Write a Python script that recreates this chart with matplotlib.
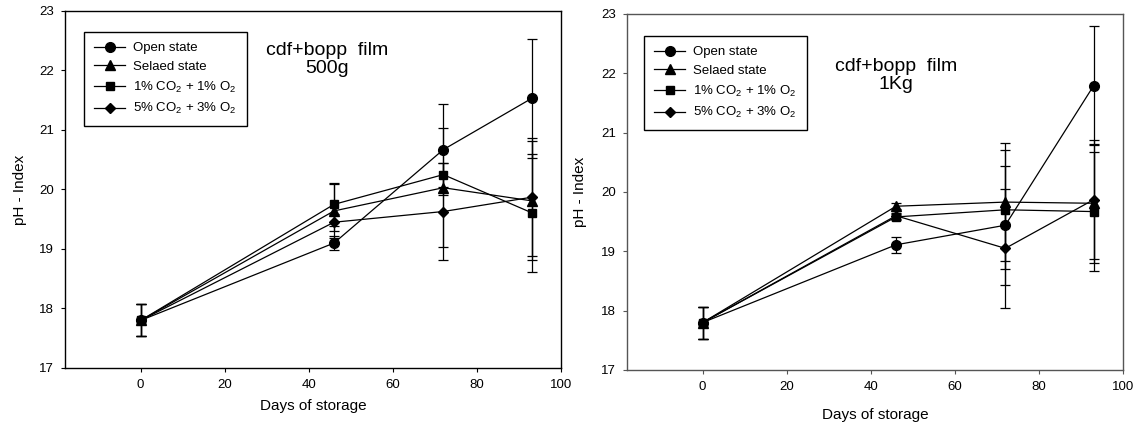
import matplotlib
matplotlib.use("Agg")
import matplotlib.pyplot as plt

plt.rcParams["font.family"] = ["Liberation Sans", "DejaVu Sans"]
plt.rcParams["mathtext.fontset"] = "custom"
plt.rcParams["mathtext.rm"] = "Liberation Sans"
plt.rcParams["mathtext.it"] = "Liberation Sans"

days = [0, 46, 72, 93]
labels = ["Open state", "Selaed state",
          "1% CO$_2$ + 1% O$_2$", "5% CO$_2$ + 3% O$_2$"]
markers = ["o", "^", "s", "D"]
msizes = [7, 7, 6, 5.5]

# cdf+bopp film, 500g
open_500 = [17.80, 19.10, 20.67, 21.53]
sealed_500 = [17.80, 19.64, 20.03, 19.81]
co2_1_500 = [17.80, 19.75, 20.25, 19.61]
co2_5_500 = [17.80, 19.45, 19.63, 19.87]
open_500_err = [0.27, 0.12, 0.76, 1.00]
sealed_500_err = [0.27, 0.46, 1.00, 1.00]
co2_1_500_err = [0.27, 0.36, 0.20, 0.99]
co2_5_500_err = [0.27, 0.14, 0.81, 0.99]

# cdf+bopp film, 1Kg
open_1k = [17.80, 19.11, 19.44, 21.79]
sealed_1k = [17.80, 19.76, 19.83, 19.81]
co2_1_1k = [17.80, 19.58, 19.70, 19.67]
co2_5_1k = [17.80, 19.60, 19.05, 19.87]
open_1k_err = [0.27, 0.13, 1.00, 1.00]
sealed_1k_err = [0.27, 0.05, 1.00, 1.00]
co2_1_1k_err = [0.27, 0.05, 1.00, 1.00]
co2_5_1k_err = [0.27, 0.05, 1.00, 1.00]

fig = plt.figure(figsize=(11.43, 4.37), dpi=100)
W, H = 1143, 437
ax1 = fig.add_axes([65 / W, 1 - 368 / H, 496 / W, 357 / H])
ax2 = fig.add_axes([627 / W, 1 - 370 / H, 496 / W, 356 / H])


def draw_panel(ax, series, errs, title, spine_col, leg_box, txt_pos,
               xpad, ypad):
    handles = []
    for vals, err, lab, m, ms in zip(series, errs, labels, markers, msizes):
        c = ax.errorbar(days, vals, yerr=err, color="black", marker=m, ms=ms,
                        lw=0.9, elinewidth=0.9, capsize=3.8, capthick=0.9,
                        label=lab)
        handles.append(c.lines[0])
    ax.set_xlim(-18, 100)
    ax.set_ylim(17, 23)
    ax.set_xticks([0, 20, 40, 60, 80, 100])
    ax.set_yticks([17, 18, 19, 20, 21, 22, 23])
    ax.tick_params(direction="out", length=3, width=0.8, labelsize=9.5,
                   labelcolor="black", color=spine_col, pad=5,
                   top=False, right=False)
    for s in ax.spines.values():
        s.set_color(spine_col)
        s.set_linewidth(1.0)
    ax.set_xlabel("Days of storage", fontsize=11, labelpad=xpad)
    ax.set_ylabel("pH - Index", fontsize=11, labelpad=ypad)
    leg = ax.legend(handles=handles, labels=labels, loc="upper left",
                    bbox_to_anchor=leg_box, fontsize=9.5,
                    handlelength=2.4, handletextpad=0.6, borderpad=0.75,
                    labelspacing=0.5, fancybox=False, framealpha=1,
                    edgecolor="black", borderaxespad=0)
    leg.get_frame().set_linewidth(1.0)
    ax.text(txt_pos[0], txt_pos[1], title, transform=ax.transAxes,
            ha="center", va="center", fontsize=14, linespacing=1.1)


draw_panel(ax1, [open_500, sealed_500, co2_1_500, co2_5_500],
           [open_500_err, sealed_500_err, co2_1_500_err, co2_5_500_err],
           "cdf+bopp  film\n500g", "black", (0.038, 0.941), (0.528, 0.864),
           6, 9)
draw_panel(ax2, [open_1k, sealed_1k, co2_1_1k, co2_5_1k],
           [open_1k_err, sealed_1k_err, co2_1_1k_err, co2_5_1k_err],
           "cdf+bopp  film\n1Kg", "#555555", (0.034, 0.938), (0.542, 0.828),
           11, 10)

fig.savefig("out.png", dpi=100)
